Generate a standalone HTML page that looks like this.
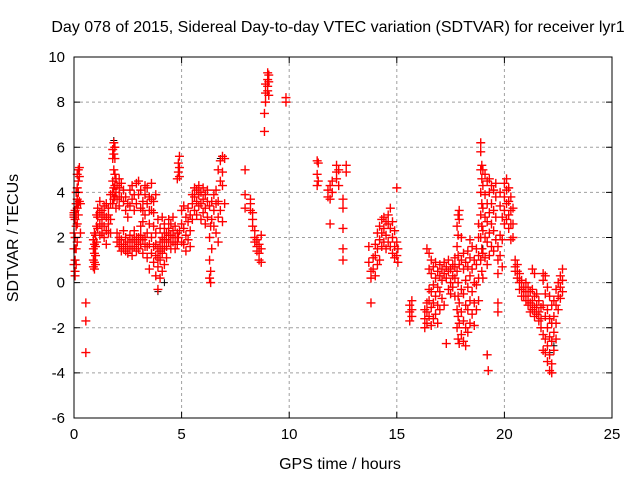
<!DOCTYPE html>
<html><head><meta charset="utf-8"><style>
html,body{margin:0;padding:0;background:#fff}
svg{display:block;font-family:"Liberation Sans",sans-serif}
</style></head><body>
<svg id="chart" width="640" height="480" viewBox="0 0 640 480"></svg>
<script>
const xTicks=[0,5,10,15,20,25];
const yTicks=[-6,-4,-2,0,2,4,6,8,10];
const colHours=[0,0.05,0.1,0.15,0.2,0.25,0.3,0.55,0.9,0.95,1.0,1.05,1.1,1.2,1.3,1.4,1.5,1.6,1.7,1.8,1.85,1.9,1.95,2.0,2.1,2.2,2.3,2.4,2.5,2.6,2.7,2.8,2.9,3.0,3.1,3.2,3.3,3.4,3.5,3.6,3.7,3.8,3.9,4.0,4.1,4.2,4.3,4.4,4.5,4.6,4.7,4.8,4.85,4.9,5.0,5.1,5.2,5.3,5.4,5.5,5.6,5.7,5.8,5.9,6.0,6.1,6.2,6.3,6.35,6.4,6.5,6.6,6.7,6.8,6.9,7.0,7.95,8.2,8.3,8.4,8.5,8.6,8.7,8.85,8.9,9.0,9.05,9.85,11.3,11.35,11.8,11.9,12.0,12.2,12.3,12.5,12.65,13.7,13.8,13.9,14.0,14.1,14.2,14.3,14.4,14.5,14.6,14.7,14.8,14.9,15.0,15.05,15.6,15.7,16.3,16.4,16.5,16.6,16.7,16.8,16.9,17.0,17.1,17.2,17.3,17.4,17.5,17.6,17.7,17.8,17.85,17.9,18.0,18.1,18.2,18.3,18.4,18.5,18.6,18.7,18.8,18.9,18.95,19.0,19.1,19.2,19.25,19.3,19.4,19.5,19.6,19.7,19.8,19.9,20.0,20.1,20.2,20.3,20.4,20.5,20.6,20.7,20.8,20.9,21.0,21.1,21.2,21.3,21.4,21.5,21.6,21.7,21.8,21.9,22.0,22.1,22.2,22.3,22.4,22.5,22.6,22.7];
const colValues=[[3,2.9,3.1,1.5,0.8,2.2],[2.8,3.2,2,1,0.5,0.3,1.5],[3.5,2.5,1.5,0.8,4,3],[4.8,4.2,3.3,2.6,1.8,3.7],[5,4.5,4,3.5,3],[5.1,4.7,3.6],[3.5,2.2],[-0.9,-1.7,-3.1],[0.7,1,1.5,1.9],[0.6,0.9,1.3,1.7,2.2],[0.8,1.2,1.6,2.1],[1.8,2.5,3],[2.9,3.3,2.4],[2.6,3.1,3.6,2.1],[2.2,2.8,3.2,2.5],[2.5,3,3.4,2],[2.3,2.9,3.5,1.7],[2.6,3.0,3.3,2.2],[2.8,3.5,3.9,2.2],[3.5,4.5,5.5,5.9,4],[4.2,5,5.7,6.2,3.7],[3.8,4.8,5.5,6,4.3],[3.3,4,4.6],[3.7,4.3,1.8,2.2],[3.4,4.2,4.6,1.6,2,3.8],[3.8,4.4,1.9,1.4,1.7],[3.6,4.1,1.7,2.3,1.5],[3.2,3.8,1.6,2,1.4],[2.9,3.5,1.8,1.3,1.6],[3.4,4.1,2.1,1.5,1.8],[3.7,4.3,1.9,1.2,1.6],[3.2,3.9,1.6,2.3,1.9],[3.5,4.4,1.8,1.4,2],[3.9,4.5,2,1.5,1.7],[3.3,4.1,2.5,1.7,2.1],[2.7,3.6,1.9,1.3,3.2],[3.0,3.9,4.3,1.6,2],[3.5,4.2,2.2,1.1,1.6],[2.6,3.8,1.7,0.6,3.2],[3.2,4.4,2,1.3,3.7],[3.6,2.5,1.6,0.9,3.1],[3.9,2.2,1.2,0.3,1.7],[2.8,1.5,0.7,-0.3,1.1],[2.4,1.8,1,0.2,1.4],[2.9,2,1.3,0.5,1.6],[2.6,1.9,1.5,0.8,2.2],[2.2,1.6,1.1,1.9],[2.4,1.8,2.8,2.1],[2.1,1.5,2.6,1.8],[1.8,2.3,2.9,2.0],[2.0,1.5,2.5,1.7],[4.6,2.2,1.7,2.0],[4.9,5.3,2],[5.6,5.1,4.7,2.3],[3.2,2.6,1.8],[2.4,1.7,3.4],[2.1,1.4,2.9],[2.7,1.9,3.3],[2.3,3.0,1.6],[3.5,2.8,3.9],[3.8,3.2,4.2],[4.1,3.6,3.0],[3.9,3.4,4.3],[3.5,4.0,2.8],[3.7,4.2,3.1],[3.3,3.9,2.6],[2.9,3.6,4.1],[2.0,1.0,0.2,3.4],[0.0,0.5,2.5],[2.8,3.6,1.5],[3.9,3.2,2.5],[4.1,3.5,2.2],[3.6,2.9,5.0,1.8],[4.5,5.4,3.2],[5.6,4.9,4.3,2.7],[5.5,3.5],[5.0,3.9,3.3],[3.5,3.7,3.2],[3.1,2.8,2.5],[2.3,2.0,1.8],[1.9,1.6,1.4],[1.7,1.3,1.0],[2.1,1.5,0.9],[6.7,7.5],[8.0,8.4,8.8],[8.5,9.0,9.3,8.7],[8.9,9.2,8.3],[8.0,8.2],[5.4,4.8,4.3],[5.3,4.5],[4.1,3.8],[3.7,4.3,2.6],[4.5,4.0],[5.2,4.9,4.6],[5.0,4.3],[3.7,3.3,2.4,1.5,1.0],[5.2,4.9],[1.6,0.9],[0.5,0.2,-0.9],[1.1,0.6],[1.7,1.2,0.3],[2.2,1.5,0.8],[2.5,1.9,1.0],[2.8,2.2,1.6],[2.4,1.8,2.9],[2.1,1.5,2.7],[2.6,3.0,1.8],[3.3,2.4,1.6],[2.0,1.3,2.7],[1.6,1.1,2.3],[4.2,1.8,1.2],[1.5,0.9],[-1.7,-1.3,-1.0],[-0.8,-1.2,-1.5],[-2.0,-1.6,-1.2],[-1.8,-1.3,-0.9,1.5],[-1.5,-0.8,-0.3,0.6,1.3],[-1.9,-1.1,-0.4,0.4,1.0],[-1.6,-0.9,-0.1,0.7],[-1.4,-0.6,0.2,0.9],[-1.8,-1.0,-0.2,0.5],[-1.2,-0.4,0.3,0.8],[-0.7,0.1,0.6],[-1.0,0.4,0.9],[-2.7,0.2,0.7],[-0.3,0.5,1.0],[0.0,0.6,-0.5],[0.3,0.8,-0.2],[-0.6,0.2,0.7,1.1],[-2.0,-1.2,0.5,1.6,2.5],[-2.5,-1.5,0.0,1.2,2.1,3.0,-0.6],[-2.7,-1.8,-0.9,0.8,2.8,3.2],[-2.3,-1.3,-0.3,1.0,2.0],[-2.6,-1.7,-0.5,0.6,1.3],[-2.8,-2.0,-1.0,0.1,0.9],[-2.2,-1.2,-0.2,0.7,1.4],[-1.8,-0.8,0.3,1.1,1.9],[-1.4,-0.4,0.6,1.6],[-1.9,-0.9,0.0,1.0],[-1.2,-0.1,0.8,1.5],[-0.8,0.2,1.2,2.0,2.6],[1.0,2.0,3.0,4.0,5.0,5.8,6.2],[0.5,1.5,2.5,3.5,4.6,5.2],[0.2,1.3,2.3,3.3,4.3,5.0],[1.1,2.0,2.9,3.9,4.8],[0.8,1.8,2.7,3.5,4.5,-3.2],[-3.9],[1.2,2.2,3.1,4.0,4.6],[1.6,2.6,3.5,4.3],[1.4,2.3,3.2,4.1],[1.9,2.9,3.8,4.4],[0.4,1.0,-0.9,-1.3,1.6],[1.2,2.1,3.4,4.0],[0.7,1.9,2.9],[4.4,3.8,3.2,2.6],[4.6,4.1,3.5,2.8],[4.2,3.6,3.0,2.4],[3.8,3.2,2.6,1.9],[3.3,2.6,2.0],[1.0,0.7,0.5],[0.8,0.5,0.2],[0.4,0.0,-0.3],[0.1,-0.3,-0.6],[-0.2,-0.6],[-0.4,-0.8,0.0],[-0.6,-1.0,-0.2],[-0.9,-1.3,-0.4],[-0.3,-0.8,-1.2,0.6],[-0.6,-1.1,-1.5,0.4],[-1.0,-1.4,-0.5],[-1.3,-1.7,-0.8],[-1.6,-2.0,-1.1],[0.4,0.1,-1.0,-2.3,-3.0],[0.3,-0.5,-1.5,-2.5,-3.1],[-0.2,-1.2,-2.0,-2.8,-3.5],[-0.6,-1.6,-2.4,-3.2,-3.9],[-1.0,-1.8,-2.6,-3.6,-4.0],[-0.8,-1.5,-2.2,-3.0],[-0.3,-1.0,-1.8,-2.5],[0.0,-0.6,-1.2],[0.3,-0.2,-0.7],[0.6,0.1,-0.4]];
const blackHours=[0.05,1.85,3.9,4.2,6.8,8.7,11.9,15.6,19.2,19.7,22.1,22.3,19.0];
const blackValues=[1.0,6.3,-0.4,0.0,5.5,0.9,3.7,-1.7,-3.2,-1.3,-3.1,-2.8,1.5];

const L=74,R=612,T=57,B=418;
const xMin=0,xMax=25,yMin=-6,yMax=10;
const sx=v=>L+(v-xMin)/(xMax-xMin)*(R-L);
const sy=v=>B-(v-yMin)/(yMax-yMin)*(B-T);
const NS='http://www.w3.org/2000/svg';
const svg=document.getElementById('chart');
function mk(tag,attrs,parent){const e=document.createElementNS(NS,tag);for(const k in attrs)e.setAttribute(k,attrs[k]);(parent||svg).appendChild(e);return e;}

const grid=mk('g',{});


xTicks.forEach(v=>{if(v>xMin&&v<xMax)mk('line',{x1:sx(v),x2:sx(v),y1:T,y2:B,stroke:'#a0a0a0','stroke-dasharray':'3,3'},grid);});
yTicks.forEach(v=>{if(v>yMin&&v<yMax)mk('line',{x1:L,x2:R,y1:sy(v),y2:sy(v),stroke:'#a0a0a0','stroke-dasharray':'3,3'},grid);});

const blk=mk('g',{stroke:'#000','stroke-width':1});


blackHours.forEach((h,i)=>{const x=sx(h),y=sy(blackValues[i]);mk('path',{d:`M${x-3.5},${y}H${x+3.5}M${x},${y-3.5}V${y+3.5}`},blk);});

const red=mk('g',{stroke:'#ff0000','stroke-width':1.4});


let d='';
colHours.forEach((h,i)=>{colValues[i].forEach(v=>{const x=sx(h),y=sy(v);d+=`M${x-4.5},${y}H${x+4.5}M${x},${y-4.5}V${y+4.5}`;});});
mk('path',{d:d},red);

const ax=mk('g',{stroke:'#000','stroke-width':1,fill:'none'});


mk('rect',{x:L,y:T,width:R-L,height:B-T},ax);
xTicks.forEach(v=>{const x=sx(v);mk('line',{x1:x,x2:x,y1:B,y2:B-6},ax);mk('line',{x1:x,x2:x,y1:T,y2:T+6},ax);});
yTicks.forEach(v=>{const y=sy(v);mk('line',{x1:L,x2:L+6,y1:y,y2:y},ax);mk('line',{x1:R,x2:R-6,y1:y,y2:y},ax);});

const xl=mk('g',{'font-size':15,'text-anchor':'middle',fill:'#000'});


xTicks.forEach(v=>{const t=mk('text',{x:sx(v),y:B+21},xl);t.textContent=v;});
const yl=mk('g',{'font-size':15,'text-anchor':'end',fill:'#000'});


yTicks.forEach(v=>{const t=mk('text',{x:L-9,y:sy(v)+5},yl);t.textContent=v;});
</script>
<div style="position:absolute;left:0;top:0;width:640px;height:480px;pointer-events:none;font-family:'Liberation Sans',sans-serif;font-size:16px;color:#000">
<div style="position:absolute;left:0;width:676px;top:19px;text-align:center;white-space:nowrap">Day 078 of 2015, Sidereal Day-to-day VTEC variation (SDTVAR) for receiver lyr1</div>
<div style="position:absolute;left:240px;width:200px;top:456px;text-align:center">GPS time / hours</div>
<div style="position:absolute;left:-86px;top:229px;width:200px;text-align:center;transform:rotate(-90deg)">SDTVAR / TECUs</div>
</div>
</body></html>
